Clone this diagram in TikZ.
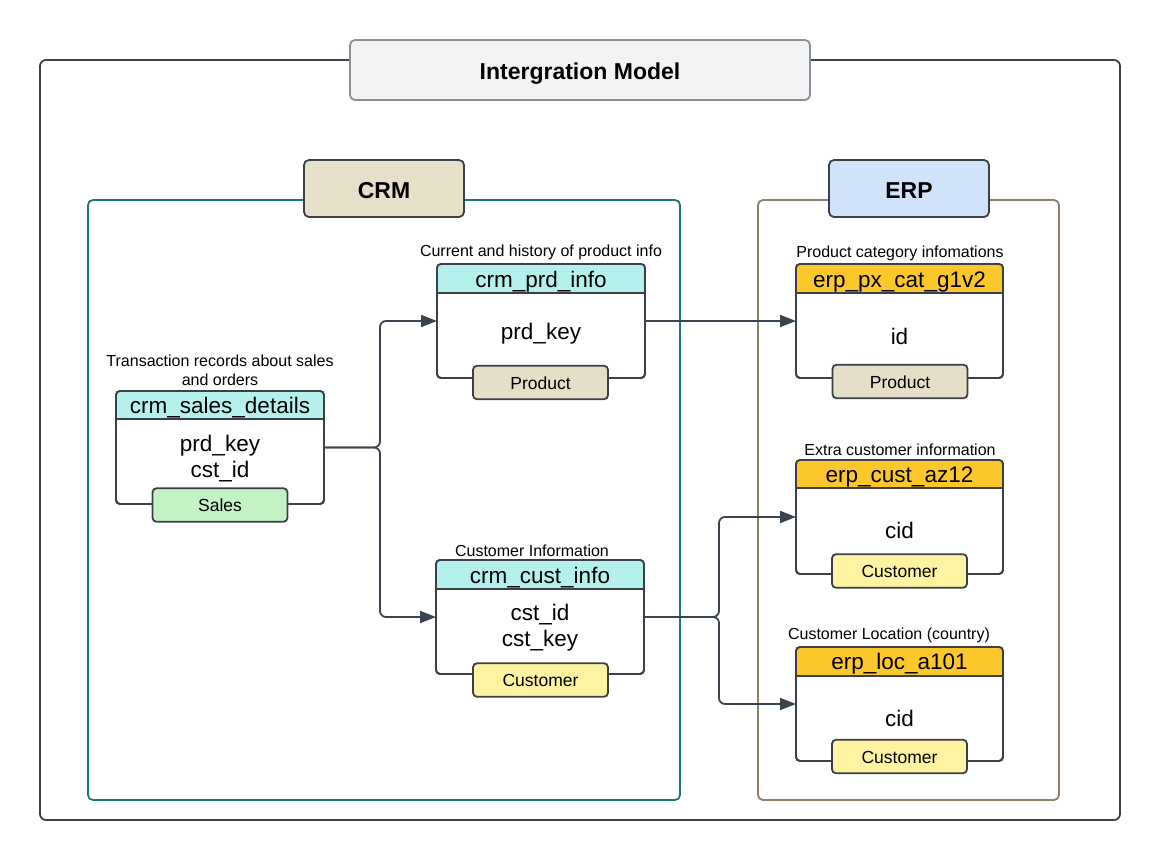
\documentclass[tikz,border=0pt]{standalone}
\usepackage{fontspec}
\setmainfont{Liberation Sans}
\usetikzlibrary{arrows.meta}
\definecolor{dkc}{HTML}{3B4048}
\definecolor{arrc}{HTML}{3A4350}
\definecolor{hdrcyan}{HTML}{B5F1EC}
\definecolor{hdrgold}{HTML}{FCC72A}
\definecolor{tagbeige}{HTML}{E5DFC7}
\definecolor{taggreen}{HTML}{C3F2C5}
\definecolor{tagyellow}{HTML}{FDF3A1}
\definecolor{crmfill}{HTML}{E7E0C9}
\definecolor{erpfill}{HTML}{D0E3FB}
\definecolor{titlefill}{HTML}{F1F3F5}
\definecolor{titledraw}{HTML}{8B9098}
\definecolor{crmline}{HTML}{1B7B70}
\definecolor{erpline}{HTML}{8D7F6B}
\tikzset{
  lw/.style={line width=1.8pt},
  frame/.style={draw=dkc, line width=1.8pt, fill=white, rounded corners=4pt, inner sep=0pt, outer sep=0pt},
  tagbox/.style={draw=dkc, line width=1.8pt, rounded corners=4pt, minimum width=135pt, minimum height=33.5pt, inner sep=0pt, text height=13.5pt, text depth=0pt, font=\fontsize{17.5}{20}\selectfont},
  hdrtxt/.style={anchor=base, font=\fontsize{22.5}{26}\selectfont, inner sep=0pt},
  bodytxt/.style={anchor=base, font=\fontsize{22.5}{26}\selectfont, inner sep=0pt},
  lbl/.style={anchor=base, font=\fontsize{16}{19}\selectfont, inner sep=0pt},
  groupbox/.style={draw=dkc, line width=1.8pt, rounded corners=5pt, inner sep=0pt, text height=19pt, text depth=0pt, font=\fontsize{23}{26}\selectfont\bfseries},
  conn/.style={draw=arrc, line width=1.8pt, rounded corners=6pt, -{Triangle[length=16pt,width=12pt]}},
}
\newcommand\dbtable[7]{%
  \node[frame, minimum width={#3-#2}, minimum height={#6-#4}] (#1) at ({(#2+#3)/2},{(#4+#6)/2}) {};
  \fill[#7, rounded corners=4pt] (#2,#4) rectangle (#3,#5);
  \fill[#7] (#2,#5-8) rectangle (#3,#5);
  \draw[dkc, lw] (#2,#5) -- (#3,#5);
  \draw[dkc, lw, rounded corners=4pt] (#1.north west) rectangle (#1.south east);
}
\begin{document}
\begin{tikzpicture}[x=1pt,y=-1pt]
\useasboundingbox (0,0) rectangle (1160,860);
\fill[white] (0,0) rectangle (1160,860);
% outer frame
\draw[dkc, line width=1.8pt, rounded corners=6pt] (40,60) rectangle (1120,820);
\node[groupbox, draw=titledraw, fill=titlefill, minimum width=460pt, minimum height=60pt] (title) at (580,70) {Intergration Model};
% group frames
\draw[crmline, line width=1.8pt, rounded corners=5pt] (88,200) rectangle (680,800);
\draw[erpline, line width=1.8pt, rounded corners=5pt] (758,200) rectangle (1059,800);
\node[groupbox, fill=crmfill, minimum width=160pt, minimum height=57pt] (crm) at (384,188.5) {CRM};
\node[groupbox, fill=erpfill, minimum width=160pt, minimum height=57pt] (erp) at (909,188.5) {ERP};

% tables
\dbtable{sd}{116}{324}{391}{419}{504}{hdrcyan}
\dbtable{pi}{437}{645}{264}{293}{378}{hdrcyan}
\dbtable{ci}{436}{644}{560}{589}{674}{hdrcyan}
\dbtable{px}{796}{1003}{264}{293}{378}{hdrgold}
\dbtable{az}{796}{1003}{460}{488}{574}{hdrgold}
\dbtable{lc}{796}{1003}{647}{676}{761}{hdrgold}

% crm_sales_details
\node[lbl] (sdl1) at (220,366) {Transaction records about sales};
\node[lbl] (sdl2) at (220,385) {and orders};
\node[hdrtxt] (sdh) at (220,413) {crm\_sales\_details};
\node[bodytxt] (sdb1) at (220,451) {prd\_key};
\node[bodytxt] (sdb2) at (220,477) {cst\_id};
\node[tagbox, fill=taggreen] (sdt) at (220,505) {Sales};

% crm_prd_info
\node[lbl] (pil) at (541,256) {Current and history of product info};
\node[hdrtxt] (pih) at (541,287) {crm\_prd\_info};
\node[bodytxt] (pib) at (541,339) {prd\_key};
\node[tagbox, fill=tagbeige] (pit) at (540.5,382.5) {Product};

% crm_cust_info
\node[lbl] (cil) at (532,556) {Customer Information};
\node[hdrtxt] (cih) at (540,583) {crm\_cust\_info};
\node[bodytxt] (cib1) at (540,620) {cst\_id};
\node[bodytxt] (cib2) at (540,646) {cst\_key};
\node[tagbox, fill=tagyellow] (cit) at (540.5,680) {Customer};

% erp_px_cat_g1v2
\node[lbl] (pxl) at (900,257) {Product category infomations};
\node[hdrtxt] (pxh) at (899.5,287) {erp\_px\_cat\_g1v2};
\node[bodytxt] (pxb) at (899.5,344) {id};
\node[tagbox, fill=tagbeige] (pxt) at (900,381.5) {Product};

% erp_cust_az12
\node[lbl] (azl) at (900,455) {Extra customer information};
\node[hdrtxt] (azh) at (899.5,482) {erp\_cust\_az12};
\node[bodytxt] (azb) at (899.5,538) {cid};
\node[tagbox, fill=tagyellow] (azt) at (899.5,571) {Customer};

% erp_loc_a101
\node[lbl] (lcl) at (889,639) {Customer Location (country)};
\node[hdrtxt] (lch) at (899.5,669) {erp\_loc\_a101};
\node[bodytxt] (lcb) at (899.5,726) {cid};
\node[tagbox, fill=tagyellow] (lct) at (899.5,756.5) {Customer};

% connectors
\draw[conn] (sd.east) -- ++(56,0) |- (pi.west);
\draw[conn] (sd.east) -- ++(56,0) |- (ci.west);
\draw[conn] (pi.east) -- (px.west);
\draw[conn] (ci.east) -- ++(75,0) |- (az.west);
\draw[conn] (ci.east) -- ++(75,0) |- (lc.west);
\end{tikzpicture}
\end{document}
